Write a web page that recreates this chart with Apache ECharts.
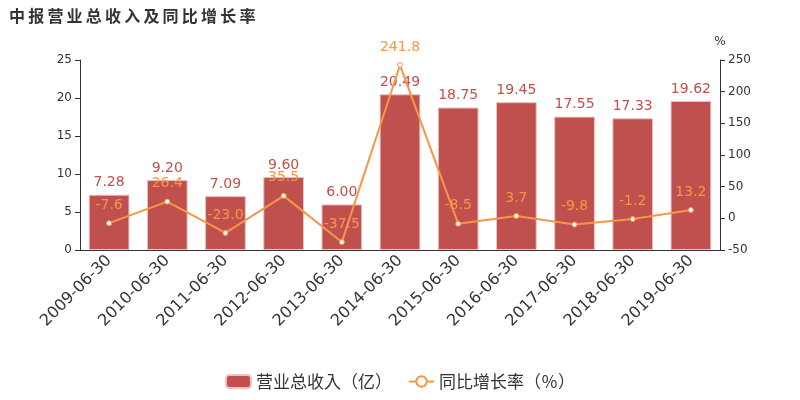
<!DOCTYPE html>
<html>
<head>
<meta charset="utf-8">
<script src="https://cdn.jsdelivr.net/npm/echarts@6/dist/echarts.min.js"></script>
<style>
  html, body { margin: 0; padding: 0; background: #fff; }
  #main { width: 800px; height: 400px; }
</style>
</head>
<body>
<div id="main"></div>
<script>
// 报告期
var categories = ['2009-06-30', '2010-06-30', '2011-06-30', '2012-06-30', '2013-06-30',
  '2014-06-30', '2015-06-30', '2016-06-30', '2017-06-30', '2018-06-30', '2019-06-30'];
// 营业总收入（亿）
var revenue = [7.28, 9.20, 7.09, 9.60, 6.00, 20.49, 18.75, 19.45, 17.55, 17.33, 19.62];
// 同比增长率（%）
var growth = [-7.6, 26.4, -23.0, 35.5, -37.5, 241.8, -8.5, 3.7, -9.8, -1.2, 13.2];

var leftTicks = { min: 0, max: 25, interval: 5 };
var rightTicks = { min: -50, max: 250, interval: 50 };

var font = 'DejaVu Sans, Noto Sans CJK SC, sans-serif';
var barColor = '#c0504d';
var lineColor = '#f79646';

var chart = echarts.init(document.getElementById('main'));

// 标题字距较宽，用细空格撑开
var titleText = '中报营业总收入及同比增长率'.split('').join('\u2009');

chart.setOption({
  animation: false,
  textStyle: { fontFamily: font },
  title: {
    text: titleText,
    left: 4,
    top: 3,
    textStyle: { fontSize: 16, fontWeight: 'bold', color: '#333', fontFamily: 'Noto Sans CJK SC' }
  },
  legend: {
    bottom: 5,
    left: 'center',
    itemWidth: 25,
    itemHeight: 13,
    itemGap: 16,
    textStyle: { fontSize: 17, color: '#333', fontFamily: 'Noto Sans CJK TC' },
    data: [
      { name: '营业总收入（亿）', icon: 'roundRect' },
      { name: '同比增长率（％）' }
    ]
  },
  grid: { left: 80, right: 80, top: 60, bottom: 150 },
  xAxis: {
    type: 'category',
    data: categories,
    axisLine: { lineStyle: { color: '#333' } },
    axisTick: { lineStyle: { color: '#333' } },
    axisLabel: { rotate: 45, fontSize: 16, color: '#333', interval: 0, margin: 8 }
  },
  yAxis: [
    {
      type: 'value',
      min: leftTicks.min,
      max: leftTicks.max,
      interval: leftTicks.interval,
      axisLine: { show: true, lineStyle: { color: '#333' } },
      axisTick: { show: true, lineStyle: { color: '#333' } },
      axisLabel: { fontSize: 12, color: '#333' },
      splitLine: { show: false }
    },
    {
      type: 'value',
      name: '%',
      nameGap: 12,
      nameTextStyle: { fontSize: 12, color: '#333', align: 'center' },
      min: rightTicks.min,
      max: rightTicks.max,
      interval: rightTicks.interval,
      axisLine: { show: true, lineStyle: { color: '#333' } },
      axisTick: { show: true, lineStyle: { color: '#333' } },
      axisLabel: { fontSize: 12, color: '#333' },
      splitLine: { show: false }
    }
  ],
  series: [
    {
      name: '营业总收入（亿）',
      type: 'bar',
      data: revenue,
      barWidth: '70%',
      itemStyle: { color: barColor, borderColor: '#e8c4c3', borderWidth: 1 },
      label: {
        show: true,
        position: 'top',
        fontSize: 14,
        color: barColor,
        formatter: function (p) { return p.value.toFixed(2); }
      }
    },
    {
      name: '同比增长率（％）',
      type: 'line',
      yAxisIndex: 1,
      data: growth,
      symbol: 'circle',
      symbolSize: 5,
      lineStyle: { color: lineColor, width: 2 },
      itemStyle: { color: '#fff', borderColor: lineColor, borderWidth: 1 },
      label: {
        show: true,
        position: 'top',
        distance: 8,
        fontSize: 14,
        color: lineColor,
        formatter: function (p) { return p.value.toFixed(1); }
      }
    }
  ]
});
</script>
</body>
</html>
